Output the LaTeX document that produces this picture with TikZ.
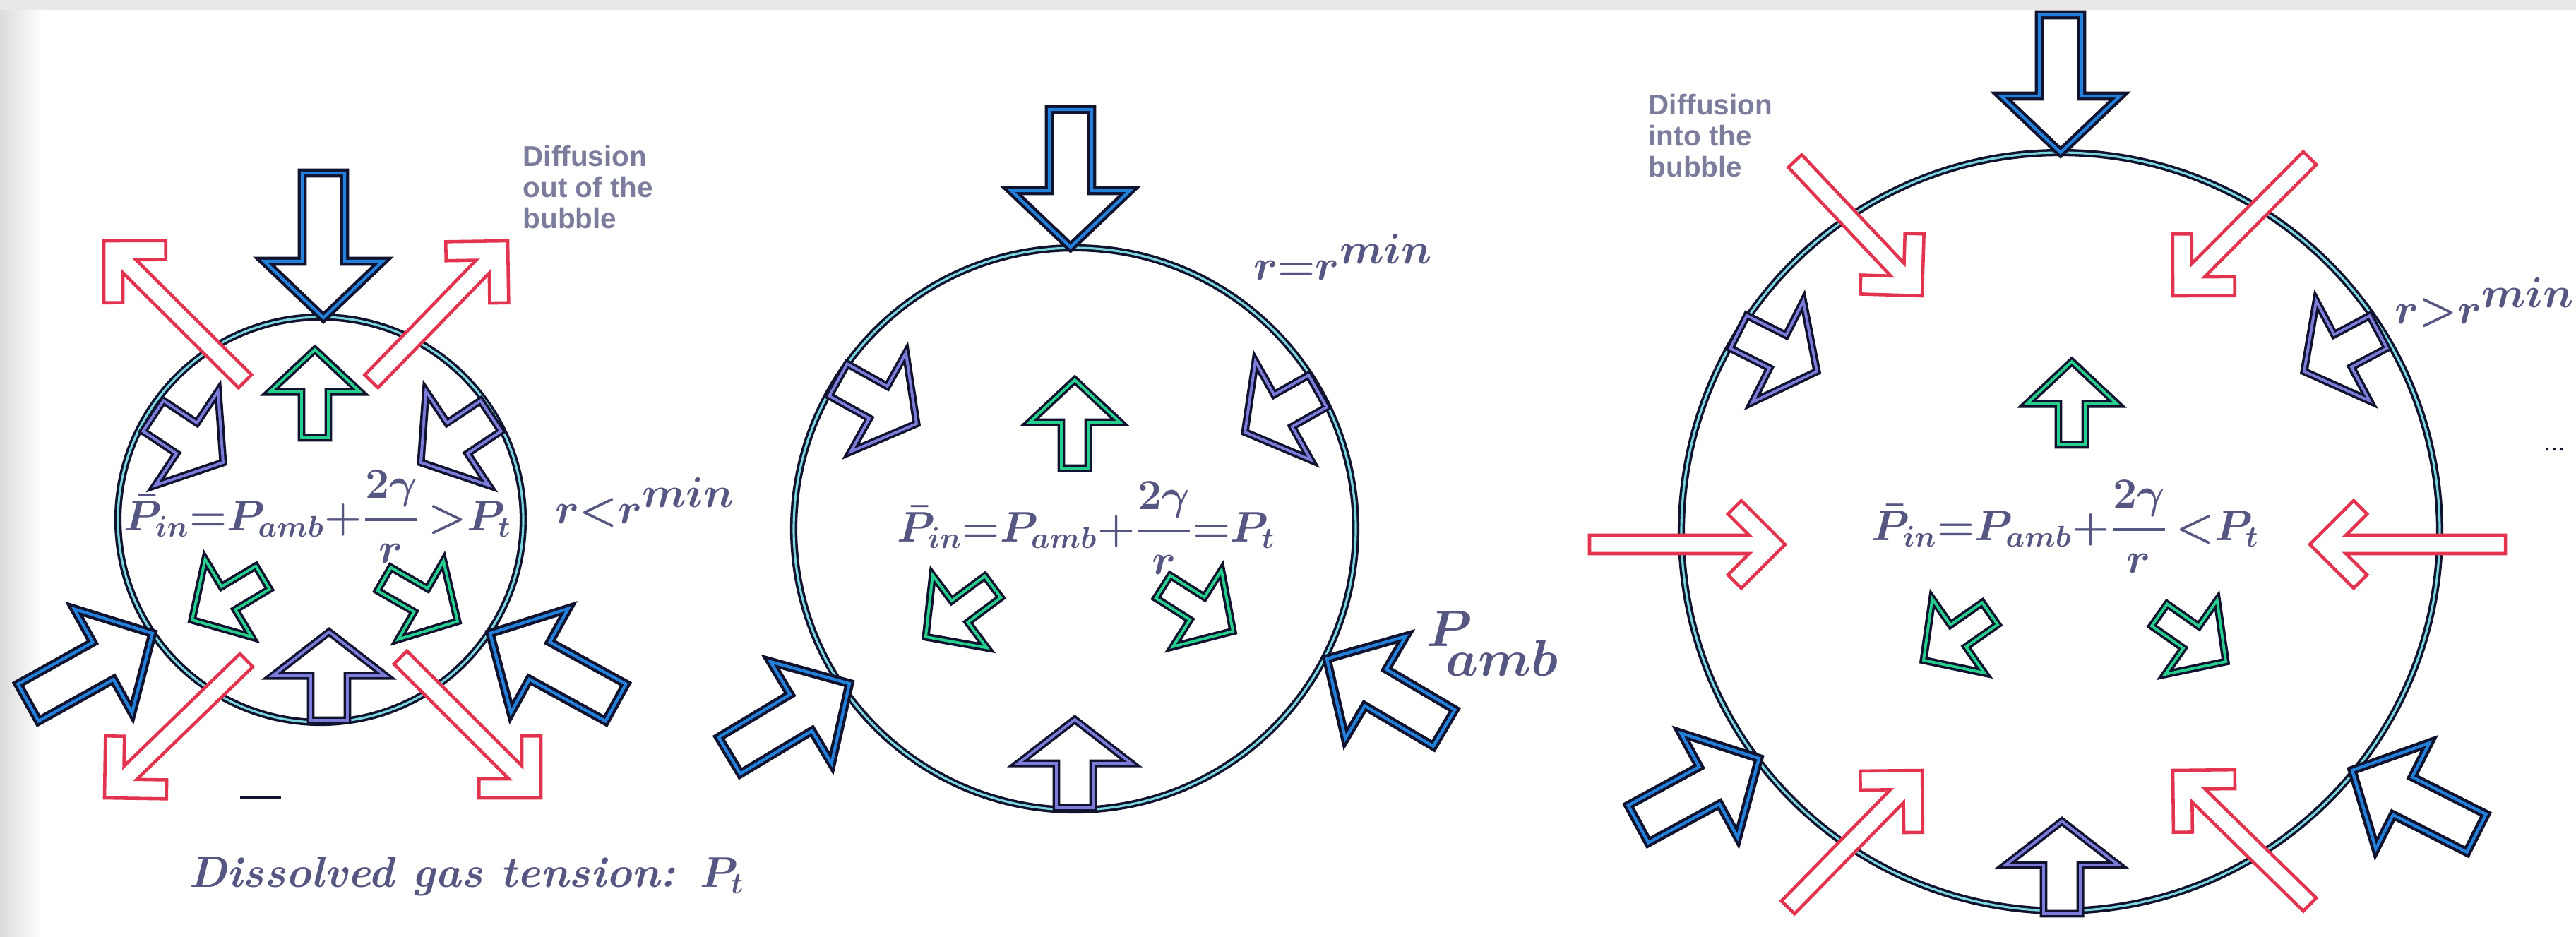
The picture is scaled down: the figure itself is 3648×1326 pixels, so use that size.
\documentclass[tikz,border=0pt]{standalone}
\usepackage{amsmath}
\usepackage{fontspec}
\usetikzlibrary{calc}
\newfontfamily\labelfont{Liberation Sans}

\definecolor{fringe}{HTML}{10122E}
\definecolor{bubblecyan}{HTML}{7CD6DE}
\definecolor{ambblue}{HTML}{2381DB}
\definecolor{tensionviolet}{HTML}{7C7CDA}
\definecolor{gasgreen}{HTML}{27CF8E}
\definecolor{diffred}{HTML}{E2344F}
\definecolor{labelink}{HTML}{565682}
\definecolor{diffgray}{HTML}{7C7C9C}

\tikzset{
  bubble/.style={draw=fringe, line width=1pt, double=bubblecyan, double distance=0.9pt},
  amb arrow/.style={draw=fringe, line width=1.2pt, double=ambblue, double distance=1.2pt, fill=white},
  tension arrow/.style={draw=fringe, line width=1pt, double=tensionviolet, double distance=1.1pt, fill=white},
  gas arrow/.style={draw=fringe, line width=1pt, double=gasgreen, double distance=1.1pt, fill=white},
  diff arrow/.style={draw=diffred, line width=1.3pt, fill=white},
  eqn/.style={text=labelink, inner sep=0pt, font=\fontsize{16.4}{20}\selectfont\boldmath},
  rlabel/.style={text=labelink, inner sep=0pt, anchor=base west, font=\fontsize{18}{22}\selectfont\boldmath},
  difftext/.style={text=diffgray, inner sep=0pt, anchor=north west, align=left,
    font=\labelfont\bfseries\fontsize{11.5}{12.6}\selectfont}
}

% block arrow: [style]{tail}{tip}{shaft half width}{head half width}{head length}
\newcommand{\blockarrow}[6][]{%
  \coordinate (bt) at (#2);
  \coordinate (bp) at (#3);
  \coordinate (bb) at ($(bp)!#6!(bt)$);
  \draw[#1] ($(bt)!#4!90:(bp)$) -- ($(bb)!#4!-90:(bt)$) -- ($(bb)!#5!-90:(bt)$)
    -- (bp) -- ($(bb)!#5!90:(bt)$) -- ($(bb)!#4!90:(bt)$) -- ($(bt)!#4!-90:(bp)$) -- cycle;
}
\newcommand{\ambarrow}[2]{\blockarrow[amb arrow]{#1}{#2}{0.30cm}{0.84cm}{0.80cm}}
\newcommand{\tensionarrow}[2]{\blockarrow[tension arrow]{#1}{#2}{0.26cm}{0.80cm}{0.62cm}}
\newcommand{\gasarrow}[2]{\blockarrow[gas arrow]{#1}{#2}{0.19cm}{0.64cm}{0.60cm}}

% thin arrow with an open V head (diffusion)
\newcommand{\diffarrow}[2]{%
  \coordinate (dt) at (#1);
  \coordinate (dp) at (#2);
  \coordinate (dc) at ($(dp)!0.51cm!(dt)$);
  \coordinate (db) at ($(dp)!0.81cm!(dt)$);
  \coordinate (da) at ($(dp)!0.62cm!(dt)$);
  \draw[diff arrow] ($(dt)!0.13cm!90:(dp)$) -- ($(dc)!0.13cm!-90:(dt)$) -- ($(db)!0.43cm!-90:(dt)$)
    -- ($(da)!0.62cm!-90:(dt)$) -- (dp) -- ($(da)!0.62cm!90:(dt)$) -- ($(db)!0.43cm!90:(dt)$)
    -- ($(dc)!0.13cm!90:(dt)$) -- ($(dt)!0.13cm!-90:(dp)$) -- cycle;
}

% bubble pressure balance, Laplace term as a heavy fraction
\newcommand{\laplace}{\genfrac{}{}{1.3pt}{0}{2\gamma}{r}}

\begin{document}
\begin{tikzpicture}[x=0.01cm, y=-0.01cm]
  \useasboundingbox (0,0) rectangle (3648,1326);
  \clip (0,0) rectangle (3648,1326);
  \fill[white] (0,0) rectangle (3648,1326);
  \shade[left color=black!14, right color=white] (0,0) rectangle (60,1326);
  \fill[black!9] (0,0) rectangle (3648,14);

  % the three bubbles
  \coordinate (c1) at (454,736);
  \coordinate (c2) at (1522,749);
  \coordinate (c3) at (2918,753);
  \draw[bubble] (c1) circle (287);
  \draw[bubble] (c2) circle (398);
  \draw[bubble] (c3) circle (537);

  % small bubble, r < r^min
  \ambarrow{458,245}{458,450}
  \ambarrow{40,995}{216,897}
  \ambarrow{872,995}{694,897}
  \tensionarrow{217,589}{316,655}
  \tensionarrow{695,589}{596,655}
  \tensionarrow{466,1020}{466,895}
  \gasarrow{446,620}{446,495}
  \gasarrow{372,818}{272,878}
  \gasarrow{544,820}{648,880}
  \diffarrow{349,935}{148,1130}
  \diffarrow{567,931}{766,1130}
  \diffarrow{347,540}{147,341}
  \diffarrow{526,540}{719,341}

  % critical bubble, r = r^min
  \ambarrow{1516,155}{1516,350}
  \ambarrow{1033,1070}{1203,968}
  \ambarrow{2045,1031}{1879,933}
  \tensionarrow{1187,538}{1298,600}
  \tensionarrow{1866,554}{1763,612}
  \tensionarrow{1522,1144}{1522,1019}
  \gasarrow{1522,663}{1522,538}
  \gasarrow{1406,831}{1311,902}
  \gasarrow{1647,831}{1746,894}

  % large bubble, r > r^min
  \ambarrow{2918,21}{2918,216}
  \ambarrow{2320,1167}{2491,1074}
  \ambarrow{3507,1180}{3331,1091}
  \tensionarrow{2462,470}{2573,526}
  \tensionarrow{3368,470}{3263,526}
  \tensionarrow{2920,1294}{2920,1163}
  \gasarrow{2934,630}{2934,512}
  \gasarrow{2818,869}{2724,935}
  \gasarrow{3058,871}{3152,937}
  \diffarrow{2542,228}{2722,419}
  \diffarrow{3271,224}{3077,419}
  \diffarrow{2532,1285}{2722,1091}
  \diffarrow{3271,1281}{3077,1091}
  \diffarrow{2251,771}{2528,771}
  \diffarrow{3548,771}{3271,771}

  % labels
  \node[eqn] (eq1) at (450,732) {$\bar{P}_{in}{=}P_{amb}{+}\laplace\,{>}P_t$};
  \node[eqn] (eq2) at (1538,748) {$\bar{P}_{in}{=}P_{amb}{+}\laplace{=}P_t$};
  \node[eqn] (eq3) at (2925,746) {$\bar{P}_{in}{=}P_{amb}{+}\laplace\,{<}P_t$};

  \node[rlabel] (rmin1) at (786,741) {$r{<}r^{\textstyle min}$};
  \node[rlabel] (rmin2) at (1775,396) {$r{=}r^{\textstyle min}$};
  \node[rlabel] (rmin3) at (3391,458) {$r{>}r^{\textstyle min}$};

  \node[text=labelink, inner sep=0pt, anchor=base west, font=\fontsize{21}{25}\selectfont\boldmath]
    (pamb) at (2020,915) {\rlap{$P$}\kern7.5pt\lower12pt\hbox{\fontsize{20}{24}\selectfont$amb$}};

  \node[difftext] (outlabel) at (740,205) {Diffusion\\out of the\\bubble};
  \node[difftext] (inlabel) at (2334,132) {Diffusion\\into the\\bubble};

  \node[text=labelink, inner sep=0pt, anchor=base west,
        font=\fontsize{17.6}{21}\selectfont\bfseries\itshape\boldmath]
    (tension) at (267,1256) {Dissolved gas tension: $P_t$};

  \draw[fringe, line width=1.2pt] (340,1130) -- (398,1130);
  \foreach \x in {3607,3617,3627}
    \fill[fringe] (\x,636) circle (2.2);
\end{tikzpicture}
\end{document}
